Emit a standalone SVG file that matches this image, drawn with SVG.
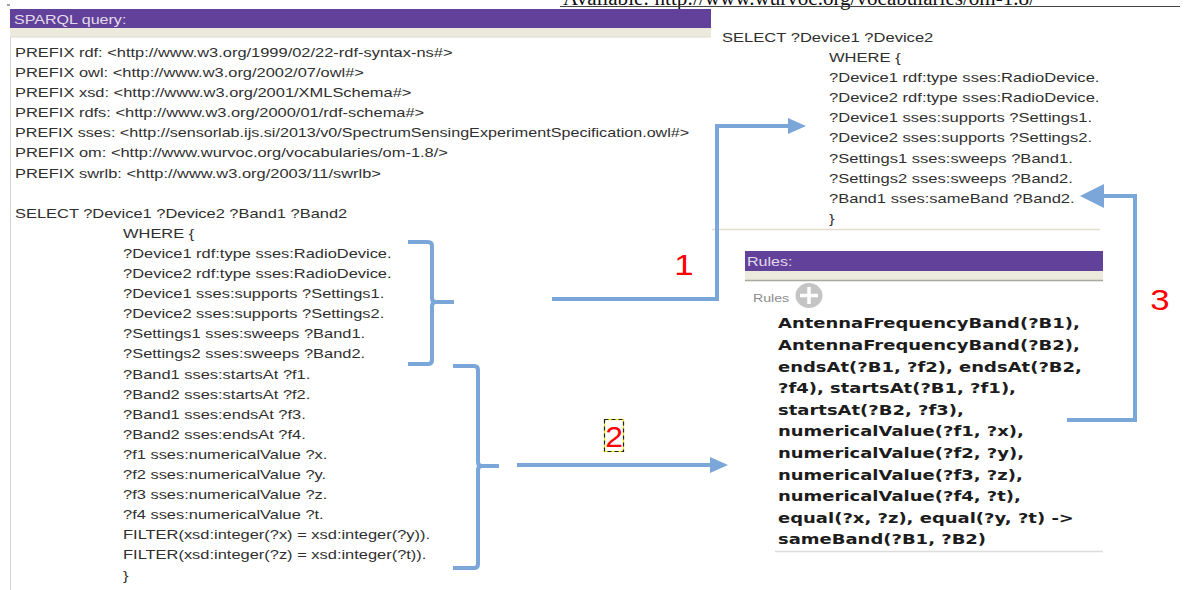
<svg xmlns="http://www.w3.org/2000/svg" width="1186" height="590" viewBox="0 0 1186 590">
<style>
.q{font-family:"Liberation Sans",Arial,sans-serif;font-size:13px;fill:#2f2f2f}
.hd{font-family:"Liberation Sans",Arial,sans-serif;font-size:12.5px;fill:#e2dcea}
.rl{font-family:"DejaVu Sans",Verdana,sans-serif;font-size:14px;font-weight:bold;fill:#1c1c1c}
.num{font-family:"Liberation Sans",Arial,sans-serif;font-size:29px;fill:#ff0000;text-anchor:middle}
.bar{fill:#62419a}
.beige{fill:#ece9dd}
.conn{fill:none;stroke:#7ba6d9;stroke-width:4}
</style>
<defs>
<marker id="ah" markerUnits="userSpaceOnUse" viewBox="0 0 18 16" refX="1" refY="8" markerWidth="18" markerHeight="16" orient="auto">
<path d="M0,0 L18,8 L0,16 z" fill="#7ba6d9"/>
</marker>
<marker id="ahL" markerUnits="userSpaceOnUse" viewBox="0 0 24 24" refX="1" refY="12" markerWidth="24" markerHeight="24" orient="auto">
<path d="M0,0 L24,12 L0,24 z" fill="#7ba6d9"/>
</marker>
</defs>
<rect width="1186" height="590" fill="#ffffff"/>

<g id="page-caption">
<text x="563" y="5" font-family="'Liberation Serif','Times New Roman',serif" font-size="20" fill="#111" textLength="472" lengthAdjust="spacingAndGlyphs">Available: http://www.wurvoc.org/vocabularies/om-1.8/</text>
<line x1="560" y1="6.5" x2="1180" y2="6.5" stroke="#444" stroke-width="1"/>
<line x1="7" y1="5" x2="10" y2="5" stroke="#444" stroke-width="1"/>
</g>

<g id="sparql-panel">
<rect class="bar" x="10" y="9" width="701" height="19"/>
<rect class="beige" x="10" y="28" width="701" height="9"/>
<line x1="10" y1="37" x2="711" y2="37" stroke="#dcd8cc" stroke-width="1"/>
<line x1="10.5" y1="37" x2="10.5" y2="590" stroke="#d6d6d6" stroke-width="1"/>
<g transform="translate(14,23.5) scale(1.285,1)"><text class="hd" x="0" y="0">SPARQL query:</text></g>
<g transform="translate(15,0) scale(1.265,1)">
<text class="q" x="0" y="57">PREFIX rdf: &lt;http://www.w3.org/1999/02/22-rdf-syntax-ns#&gt;</text>
<text class="q" x="0" y="77.1">PREFIX owl: &lt;http://www.w3.org/2002/07/owl#&gt;</text>
<text class="q" x="0" y="97.2">PREFIX xsd: &lt;http://www.w3.org/2001/XMLSchema#&gt;</text>
<text class="q" x="0" y="117.3">PREFIX rdfs: &lt;http://www.w3.org/2000/01/rdf-schema#&gt;</text>
<text class="q" x="0" y="137.4" textLength="533" lengthAdjust="spacingAndGlyphs">PREFIX sses: &lt;http://sensorlab.ijs.si/2013/v0/SpectrumSensingExperimentSpecification.owl#&gt;</text>
<text class="q" x="0" y="157.5">PREFIX om: &lt;http://www.wurvoc.org/vocabularies/om-1.8/&gt;</text>
<text class="q" x="0" y="177.6">PREFIX swrlb: &lt;http://www.w3.org/2003/11/swrlb&gt;</text>
<text class="q" x="0" y="217.8">SELECT ?Device1 ?Device2 ?Band1 ?Band2</text>
<text class="q" x="85.4" y="237.9">WHERE {</text>
<text class="q" x="85.4" y="258">?Device1 rdf:type sses:RadioDevice.</text>
<text class="q" x="85.4" y="278.1">?Device2 rdf:type sses:RadioDevice.</text>
<text class="q" x="85.4" y="298.2">?Device1 sses:supports ?Settings1.</text>
<text class="q" x="85.4" y="318.3">?Device2 sses:supports ?Settings2.</text>
<text class="q" x="85.4" y="338.4">?Settings1 sses:sweeps ?Band1.</text>
<text class="q" x="85.4" y="358.5">?Settings2 sses:sweeps ?Band2.</text>
<text class="q" x="85.4" y="378.6">?Band1 sses:startsAt ?f1.</text>
<text class="q" x="85.4" y="398.7">?Band2 sses:startsAt ?f2.</text>
<text class="q" x="85.4" y="418.8">?Band1 sses:endsAt ?f3.</text>
<text class="q" x="85.4" y="438.9">?Band2 sses:endsAt ?f4.</text>
<text class="q" x="85.4" y="459">?f1 sses:numericalValue ?x.</text>
<text class="q" x="85.4" y="479.1">?f2 sses:numericalValue ?y.</text>
<text class="q" x="85.4" y="499.2">?f3 sses:numericalValue ?z.</text>
<text class="q" x="85.4" y="519.3">?f4 sses:numericalValue ?t.</text>
<text class="q" x="85.4" y="539.4">FILTER(xsd:integer(?x) = xsd:integer(?y)).</text>
<text class="q" x="85.4" y="559.5">FILTER(xsd:integer(?z) = xsd:integer(?t)).</text>
<text class="q" x="85.4" y="579.6">}</text>
</g>
</g>

<g id="result-query">
<g transform="translate(722,0) scale(1.275,1)">
<text class="q" x="0" y="42">SELECT ?Device1 ?Device2</text>
<text class="q" x="83.9" y="62.1">WHERE {</text>
<text class="q" x="83.9" y="82.2">?Device1 rdf:type sses:RadioDevice.</text>
<text class="q" x="83.9" y="102.3">?Device2 rdf:type sses:RadioDevice.</text>
<text class="q" x="83.9" y="122.4">?Device1 sses:supports ?Settings1.</text>
<text class="q" x="83.9" y="142.5">?Device2 sses:supports ?Settings2.</text>
<text class="q" x="83.9" y="162.6">?Settings1 sses:sweeps ?Band1.</text>
<text class="q" x="83.9" y="182.7">?Settings2 sses:sweeps ?Band2.</text>
<text class="q" x="83.9" y="202.8">?Band1 sses:sameBand ?Band2.</text>
<text class="q" x="83.9" y="222.9">}</text>
</g>
<line x1="712" y1="229.5" x2="1100" y2="229.5" stroke="#e2ddcd" stroke-width="1.5"/>
</g>

<g id="rules-panel">
<rect class="bar" x="745" y="251" width="358" height="20"/>
<rect class="beige" x="745" y="271" width="358" height="9"/>
<line x1="745" y1="280.5" x2="1103" y2="280.5" stroke="#a9a69c" stroke-width="1.5"/>
<g transform="translate(747,266) scale(1.285,1)"><text class="hd" x="0" y="0">Rules:</text></g>
<g transform="translate(753,302) scale(1.285,1)"><text x="0" y="0" font-family="'Liberation Sans',Arial,sans-serif" font-size="11" fill="#8c8c8c">Rules</text></g>
<ellipse cx="809" cy="295.5" rx="13.5" ry="12.5" fill="#c4c4c4"/>
<path d="M800,295.5 H818 M809,287 V304" stroke="#ffffff" stroke-width="3.5" fill="none"/>
<g transform="translate(778,0) scale(1.285,1)">
<text class="rl" x="0" y="328.5">AntennaFrequencyBand(?B1),</text>
<text class="rl" x="0" y="350.1">AntennaFrequencyBand(?B2),</text>
<text class="rl" x="0" y="371.7">endsAt(?B1, ?f2), endsAt(?B2,</text>
<text class="rl" x="0" y="393.3">?f4), startsAt(?B1, ?f1),</text>
<text class="rl" x="0" y="414.9">startsAt(?B2, ?f3),</text>
<text class="rl" x="0" y="436.5">numericalValue(?f1, ?x),</text>
<text class="rl" x="0" y="458.1">numericalValue(?f2, ?y),</text>
<text class="rl" x="0" y="479.7">numericalValue(?f3, ?z),</text>
<text class="rl" x="0" y="501.3">numericalValue(?f4, ?t),</text>
<text class="rl" x="0" y="522.9">equal(?x, ?z), equal(?y, ?t) -&gt;</text>
<text class="rl" x="0" y="544.5">sameBand(?B1, ?B2)</text>
</g>
<line x1="775" y1="551.5" x2="1103" y2="551.5" stroke="#dcdcdc" stroke-width="1.5"/>
</g>

<g id="connectors">
<path class="conn" d="M408,242 H428 Q432,242 432,246 V298 Q432,302 436,302 H454 M436,302 Q432,302 432,306 V360 Q432,364 428,364 H408"/>
<path class="conn" d="M453,366 H474 Q478,366 478,370 V462 Q478,466 482,466 H499 M482,466 Q478,466 478,470 V564 Q478,568 474,568 H453"/>
<path class="conn" d="M552,299 H717 V126 H789" marker-end="url(#ah)"/>
<path class="conn" d="M517,465 H711" marker-end="url(#ah)"/>
<path class="conn" d="M1067,420 H1135 V196 H1103" marker-end="url(#ahL)"/>
</g>

<g id="labels">
<g transform="translate(684,275) scale(1.2,1)"><text class="num" x="0" y="0">1</text></g>
<rect x="604.5" y="419.5" width="19" height="32" fill="none" stroke="#f5e400" stroke-width="1.2"/>
<rect x="604.5" y="419.5" width="19" height="32" fill="none" stroke="#222" stroke-width="1.2" stroke-dasharray="4 3"/>
<g transform="translate(614,447) scale(1.1,1)"><text class="num" x="0" y="0">2</text></g>
<g transform="translate(1160,310) scale(1.2,1)"><text class="num" x="0" y="0">3</text></g>
</g>
</svg>
